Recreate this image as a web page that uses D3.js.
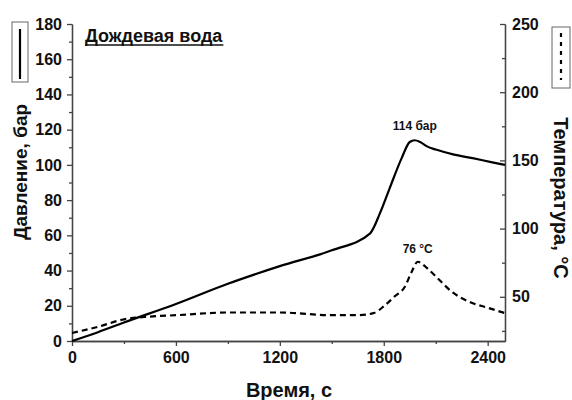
<!DOCTYPE html>
<html>
<meta charset="utf-8">
<script src="https://d3js.org/d3.v7.min.js"></script>
<style>
  body { margin: 0; background: #fff; }
  text { font-family: "Liberation Sans", Arial, sans-serif; font-weight: bold; fill: #111; }
</style>
<body>
<script>

// pressure curve, bar
var timeP = [0, 150, 300, 600, 900, 1200, 1500, 1720, 1780, 1835, 1904, 1950, 1979, 2010, 2050, 2100, 2200, 2313, 2420, 2500];
var pressure = [0, 5, 10.5, 21, 32.5, 42.5, 51.5, 61, 73, 87, 104, 113, 114, 113, 110.5, 108.7, 106, 103.8, 101.6, 100];

// temperature curve, °C
var timeT = [0, 150, 300, 450, 600, 900, 1200, 1500, 1650, 1740, 1800, 1860, 1920, 1960, 1996, 2050, 2100, 2200, 2300, 2400, 2500];
var temperature = [23.5, 28, 33.5, 35.5, 36.5, 38.5, 38.5, 36.5, 36.5, 38, 43, 50, 57, 68, 75.7, 71, 65, 53, 46, 42, 38];

var xTicks = [0, 600, 1200, 1800, 2400];
var pTicks = [0, 20, 40, 60, 80, 100, 120, 140, 160, 180];
var tTicks = [50, 100, 150, 200, 250];

var width = 572, height = 400;
var plotL = 72, plotR = 505, plotT = 24, plotB = 341;

var svg = d3.select("body").append("svg")
  .attr("width", width)
  .attr("height", height);

var x = d3.scaleLinear().domain([0, 2500]).range([plotL, plotR]);
var yP = d3.scaleLinear().domain([0, 180]).range([plotB, plotT]);
var yT = d3.scaleLinear().domain([17.6, 250]).range([plotB, plotT]);

// axes
svg.append("g")
  .attr("transform", "translate(0," + plotB + ")")
  .call(d3.axisBottom(x).tickValues(xTicks).tickFormat(d3.format("d")).tickSize(5).tickPadding(6).tickSizeOuter(0));
svg.append("g")
  .attr("transform", "translate(0," + plotB + ")")
  .call(d3.axisBottom(x).tickValues(d3.range(300, 2500, 600)).tickSize(3).tickFormat("").tickSizeOuter(0));

svg.append("g")
  .attr("transform", "translate(" + plotL + ",0)")
  .call(d3.axisLeft(yP).tickValues(pTicks).tickSize(5).tickPadding(5).tickSizeOuter(0));
svg.append("g")
  .attr("transform", "translate(" + plotL + ",0)")
  .call(d3.axisLeft(yP).tickValues(d3.range(10, 180, 20)).tickSize(3).tickFormat("").tickSizeOuter(0));

svg.append("g")
  .attr("transform", "translate(" + plotR + ",0)")
  .call(d3.axisRight(yT).tickValues(tTicks).tickSize(-5).tickPadding(7).tickSizeOuter(0));
svg.append("g")
  .attr("transform", "translate(" + plotR + ",0)")
  .call(d3.axisRight(yT).tickValues([25, 75, 125, 175, 225]).tickSize(-3).tickFormat("").tickSizeOuter(0));

svg.selectAll(".tick text").style("font-size", "16px").style("font-weight", "bold")
  .style("font-family", "Liberation Sans, Arial, sans-serif");
svg.selectAll(".domain, .tick line").attr("stroke", "#444").attr("stroke-width", 1.3);

// curves
var lineP = d3.line().x(function(d, i) { return x(timeP[i]); }).y(function(d) { return yP(d); }).curve(d3.curveMonotoneX);
var lineT = d3.line().x(function(d, i) { return x(timeT[i]); }).y(function(d) { return yT(d); }).curve(d3.curveMonotoneX);

svg.append("path").datum(pressure)
  .attr("d", lineP)
  .attr("fill", "none").attr("stroke", "#000").attr("stroke-width", 2.2);

svg.append("path").datum(temperature)
  .attr("d", lineT)
  .attr("fill", "none").attr("stroke", "#000").attr("stroke-width", 2.2)
  .attr("stroke-dasharray", "6,4");

// annotations
svg.append("text").attr("x", x(1979)).attr("y", yP(114) - 10)
  .attr("text-anchor", "middle").style("font-size", "12px").text("114 бар");
svg.append("text").attr("x", x(1996)).attr("y", yT(75.7) - 9)
  .attr("text-anchor", "middle").style("font-size", "12px").text("76 °C");

// title
var title = svg.append("text").attr("x", 85).attr("y", 42)
  .style("font-size", "18px").text("Дождевая вода");
var tb = title.node().getBBox();
svg.append("line").attr("x1", tb.x).attr("x2", tb.x + tb.width)
  .attr("y1", 45).attr("y2", 45).attr("stroke", "#111").attr("stroke-width", 1.5);

// axis titles
svg.append("text").attr("transform", "translate(27,172) rotate(-90)")
  .attr("text-anchor", "middle").style("font-size", "19px").text("Давление, бар");
svg.append("text").attr("transform", "translate(554,198) rotate(90)")
  .attr("text-anchor", "middle").style("font-size", "20px").text("Температура, °С");
svg.append("text").attr("x", 289).attr("y", 397)
  .attr("text-anchor", "middle").style("font-size", "20px").text("Время, с");

// legend boxes
svg.append("rect").attr("x", 12).attr("y", 22).attr("width", 16).attr("height", 60)
  .attr("fill", "none").attr("stroke", "#666").attr("stroke-width", 1);
svg.append("line").attr("x1", 20).attr("x2", 20).attr("y1", 29).attr("y2", 79)
  .attr("stroke", "#000").attr("stroke-width", 2.2);
svg.append("rect").attr("x", 552).attr("y", 27).attr("width", 18).attr("height", 61)
  .attr("fill", "none").attr("stroke", "#666").attr("stroke-width", 1);
svg.append("line").attr("x1", 561).attr("x2", 561).attr("y1", 33).attr("y2", 80)
  .attr("stroke", "#000").attr("stroke-width", 2.2).attr("stroke-dasharray", "4,5");

</script>
</body>
</html>
